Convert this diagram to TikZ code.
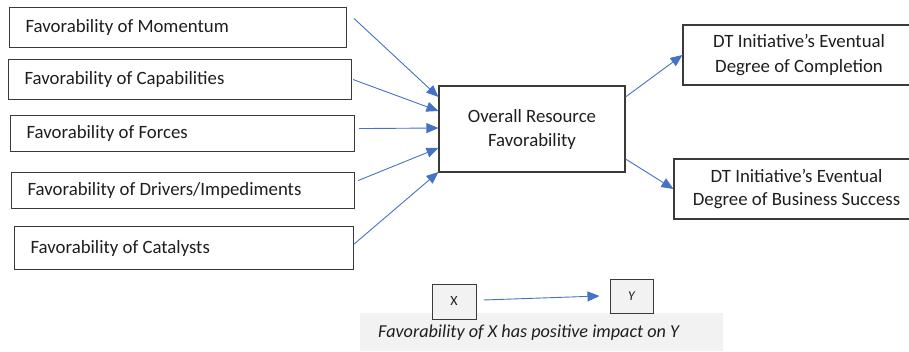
\documentclass[tikz,border=0pt]{standalone}
\usepackage{fontspec}
\setmainfont{Carlito}
\usetikzlibrary{arrows.meta,calc}
\definecolor{arrblue}{HTML}{4472C4}
\definecolor{boxline}{HTML}{3A3A3A}
\definecolor{txt}{HTML}{1E1E1E}
\definecolor{band}{HTML}{F2F2F2}
\newcommand{\lbl}[2]{\makebox[#1][l]{#2}}
\tikzset{
  inbox/.style={draw=boxline, line width=1.1pt, rectangle, anchor=north west, inner sep=0pt, inner xsep=16pt,
    font=\fontsize{18.8}{20}\selectfont, text=txt},
  cbox/.style={draw=boxline, line width=1.1pt, rectangle, inner sep=0pt, align=center,
    font=\fontsize{18.8}{24}\selectfont, text=txt},
  arr/.style={draw=arrblue, line width=0.9pt, -{Triangle[length=12pt,width=10pt]}},
  smallbox/.style={draw=boxline, line width=1pt, fill=band, rectangle, inner sep=0pt, text=txt}
}
\begin{document}
\begin{tikzpicture}[x=1pt,y=-1pt]
\useasboundingbox (0,0) rectangle (909,351);
\fill[band] (360,313) rectangle (723,351);
% left boxes
\node[inbox, minimum height=40pt] (m1) at (9,7) {\lbl{305pt}{Favorability of Momentum}};
\node[inbox, minimum height=40pt] (m2) at (8,59) {\lbl{311pt}{Favorability of Capabilities}};
\node[inbox, minimum height=36pt] (m3) at (10,115) {\lbl{312pt}{Favorability of Forces}};
\node[inbox, minimum height=36pt] (m4) at (11,172) {\lbl{311pt}{Favorability of Drivers/Impediments}};
\node[inbox, minimum height=43pt] (m5) at (14,226) {\lbl{307pt}{Favorability of Catalysts}};
% center
\node[cbox, minimum width=186pt, minimum height=86pt] (c) at (532,129) {Overall Resource\\Favorability};
% right boxes (extend beyond the right edge)
\begin{scope}
\clip (0,0) rectangle (909,351);
\node[cbox, minimum width=232pt, minimum height=60pt, font=\fontsize{18.8}{25}\selectfont] (r1) at (799,55) {DT Initiative’s Eventual\\Degree of Completion};
\node[cbox, minimum width=245pt, minimum height=60pt, font=\fontsize{18.8}{23.5}\selectfont] (r2) at (796.5,189) {DT Initiative’s Eventual\\Degree of Business Success};
\end{scope}
% arrows in
\draw[arr] ([xshift=7pt,yshift=9pt]m1.east) -- ([yshift=32pt]c.west);
\draw[arr] ([xshift=1pt]m2.east) -- ([yshift=18pt]c.west);
\draw[arr] ([xshift=4pt,yshift=5pt]m3.east) -- ([yshift=1pt]c.west);
\draw[arr] ([xshift=3pt,yshift=10pt]m4.east) -- ([yshift=-19pt]c.west);
\draw[arr] ([xshift=0pt,yshift=4pt]m5.east) -- ([yshift=-43pt]c.west);
% arrows out
\draw[arr] ([yshift=32pt]c.east) -- (r1.west);
\draw[arr] ([yshift=-30pt]c.east) -- (r2.west);
% legend
\node[smallbox, minimum width=44pt, minimum height=35pt, font=\fontsize{14}{16}\selectfont] (x) at (454,301.5) {X};
\node[smallbox, minimum width=43pt, minimum height=34pt, font=\fontsize{13.5}{16}\itshape] (y) at (631.5,296) {Y};
\draw[arr] ([xshift=7pt,yshift=1.5pt]x.east) -- ([xshift=-10pt]y.west);
\node[font=\fontsize{18.2}{20}\itshape, text=txt, anchor=west, inner sep=0pt] (cap) at (378,333) {Favorability of X has positive impact on Y};
\end{tikzpicture}
\end{document}
